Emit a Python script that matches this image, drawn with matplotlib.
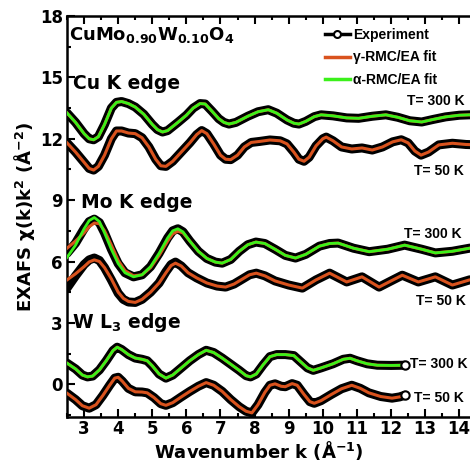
import matplotlib
matplotlib.use("Agg")
import matplotlib.pyplot as plt
from matplotlib.lines import Line2D
from matplotlib.ticker import MultipleLocator

plt.rcParams['font.family'] = ['DejaVu Sans']
plt.rcParams['font.weight'] = 'bold'
plt.rcParams['axes.labelweight'] = 'bold'
plt.rcParams['mathtext.fontset'] = 'dejavusans'
plt.rcParams['mathtext.default'] = 'bf'

# ---------------- data ----------------
# Cu K edge
cu300_k = [2.5, 2.75, 3.0, 3.15, 3.28, 3.42, 3.6, 3.8, 3.95, 4.1, 4.3, 4.5, 4.75, 5.0, 5.15,
           5.3, 5.45, 5.75, 6.0, 6.2, 6.4, 6.55, 6.75, 6.95, 7.1, 7.25, 7.45, 7.8, 8.1, 8.4,
           8.65, 8.95, 9.15, 9.3, 9.5, 9.75, 9.95, 10.3, 10.7, 11.05, 11.45, 11.85, 12.2,
           12.55, 12.9, 13.25, 13.6, 14.0, 14.3, 14.6]
cu300_y = [13.26, 12.8, 12.25, 12.0, 11.95, 12.1, 12.7, 13.5, 13.78, 13.82, 13.72, 13.55,
           13.2, 12.7, 12.45, 12.33, 12.4, 12.8, 13.15, 13.5, 13.72, 13.7, 13.35, 12.98,
           12.8, 12.72, 12.8, 13.1, 13.32, 13.42, 13.25, 12.92, 12.76, 12.72, 12.85, 13.08,
           13.17, 13.12, 13.02, 13.0, 13.1, 13.17, 13.05, 12.88, 12.82, 12.95, 13.07, 13.15,
           13.17, 13.15]

cu50_k = [2.5, 2.75, 3.0, 3.15, 3.28, 3.42, 3.6, 3.8, 3.95, 4.1, 4.3, 4.5, 4.7, 4.9, 5.1,
          5.25, 5.4, 5.6, 5.85, 6.1, 6.3, 6.45, 6.6, 6.8, 7.0, 7.15, 7.3, 7.5, 7.7, 7.9,
          8.15, 8.45, 8.75, 8.95, 9.15, 9.3, 9.45, 9.6, 9.8, 10.0, 10.1, 10.3, 10.55, 10.85,
          11.15, 11.45, 11.75, 12.05, 12.3, 12.5, 12.7, 12.88, 13.1, 13.4, 13.8, 14.2, 14.6]
cu50_y = [11.8, 11.35, 10.85, 10.55, 10.47, 10.65, 11.2, 12.0, 12.38, 12.38, 12.28, 12.25,
          12.05, 11.6, 11.0, 10.68, 10.65, 10.9, 11.35, 11.8, 12.2, 12.4, 12.25, 11.75,
          11.2, 11.0, 10.98, 11.2, 11.6, 11.82, 11.87, 11.94, 11.9, 11.75, 11.35, 11.0,
          10.9, 11.1, 11.65, 12.0, 12.08, 11.9, 11.6, 11.5, 11.55, 11.45, 11.6, 11.85,
          11.95, 11.8, 11.4, 11.2, 11.35, 11.7, 11.78, 11.72, 11.7]

# Mo K edge
mo300_k = [2.5, 2.75, 3.0, 3.15, 3.3, 3.45, 3.6, 3.8, 4.0, 4.2, 4.45, 4.7, 4.95, 5.2, 5.45,
           5.6, 5.75, 5.9, 6.1, 6.35, 6.6, 6.85, 7.05, 7.3, 7.55, 7.8, 8.04, 8.3, 8.6, 8.9,
           9.2, 9.5, 9.9, 10.2, 10.45, 10.9, 11.36, 11.9, 12.4, 12.9, 13.3, 13.8, 14.3, 14.6]
mo300_y = [6.4, 6.9, 7.6, 7.95, 8.07, 7.9, 7.4, 6.6, 5.9, 5.45, 5.25, 5.35, 5.75, 6.4, 7.15,
           7.5, 7.6, 7.45, 7.0, 6.5, 6.15, 5.97, 5.92, 6.1, 6.5, 6.82, 6.95, 6.88, 6.6, 6.3,
           6.17, 6.35, 6.75, 6.88, 6.9, 6.65, 6.48, 6.6, 6.8, 6.6, 6.42, 6.5, 6.65, 6.7]
mo300_alpha = [6.2, 6.8, 7.6, 8.0, 8.15, 7.95, 7.4, 6.6, 5.9, 5.45, 5.25, 5.35, 5.75, 6.4,
               7.15, 7.5, 7.6, 7.45, 7.0, 6.5, 6.15, 5.97, 5.92, 6.1, 6.5, 6.82, 6.95, 6.88,
               6.6, 6.3, 6.17, 6.35, 6.75, 6.88, 6.9, 6.65, 6.48, 6.6, 6.8, 6.6, 6.42, 6.5,
               6.65, 6.7]
mo300_gamma = [6.65, 7.0, 7.4, 7.7, 7.88, 7.85, 7.5, 6.8, 6.05, 5.55, 5.3, 5.35, 5.7, 6.3,
               7.0, 7.35, 7.48, 7.4, 7.0, 6.5, 6.15, 5.97, 5.92, 6.1, 6.5, 6.82, 6.95, 6.88,
               6.6, 6.3, 6.17, 6.35, 6.75, 6.88, 6.9, 6.65, 6.48, 6.6, 6.8, 6.6, 6.42, 6.5,
               6.65, 6.7]

mo50_k = [2.5, 2.75, 3.0, 3.15, 3.3, 3.45, 3.6, 3.8, 4.0, 4.15, 4.3, 4.5, 4.7, 4.95, 5.2,
          5.4, 5.55, 5.68, 5.85, 6.05, 6.3, 6.6, 6.9, 7.15, 7.4, 7.65, 7.85, 8.05, 8.3, 8.6,
          9.0, 9.4, 9.8, 10.2, 10.7, 11.15, 11.65, 12.0, 12.33, 12.8, 13.3, 13.8, 14.3, 14.6]
mo50_y = [4.7, 5.3, 5.85, 6.08, 6.17, 6.05, 5.7, 5.1, 4.45, 4.15, 4.02, 4.0, 4.15, 4.5,
          4.95, 5.5, 5.85, 5.97, 5.78, 5.45, 5.2, 4.95, 4.8, 4.75, 4.9, 5.15, 5.35, 5.43,
          5.3, 5.05, 4.85, 4.7, 5.1, 5.43, 5.0, 5.25, 4.75, 5.05, 5.33, 5.0, 5.25, 4.85,
          5.1, 5.15]
mo50_gamma = [5.1, 5.4, 5.75, 5.98, 6.08, 6.0, 5.7, 5.15, 4.5, 4.2, 4.05, 4.0, 4.15, 4.5,
              4.95, 5.45, 5.8, 5.92, 5.78, 5.45, 5.2, 4.95, 4.8, 4.75, 4.9, 5.15, 5.35, 5.43,
              5.3, 5.05, 4.85, 4.7, 5.1, 5.43, 5.0, 5.25, 4.75, 5.05, 5.33, 5.0, 5.25, 4.85,
              5.1, 5.15]

# W L3 edge
w300_k = [2.5, 2.75, 2.95, 3.1, 3.25, 3.45, 3.65, 3.85, 3.97, 4.1, 4.3, 4.5, 4.7, 4.85, 5.0,
          5.2, 5.4, 5.6, 5.85, 6.1, 6.35, 6.58, 6.8, 7.05, 7.3, 7.55, 7.75, 7.88, 8.05, 8.25,
          8.45, 8.65, 8.9, 9.15, 9.35, 9.55, 9.72, 9.95, 10.3, 10.6, 10.8, 11.0, 11.3, 11.6,
          12.0, 12.4]
w300_y = [1.03, 0.75, 0.45, 0.36, 0.4, 0.7, 1.15, 1.65, 1.81, 1.7, 1.45, 1.28, 1.22, 1.15,
          0.9, 0.5, 0.3, 0.45, 0.8, 1.15, 1.45, 1.66, 1.55, 1.28, 0.98, 0.68, 0.42, 0.36, 0.5,
          0.95, 1.35, 1.45, 1.45, 1.4, 1.1, 0.8, 0.68, 0.8, 1.0, 1.22, 1.27, 1.15, 1.0, 0.93,
          0.92, 0.93]

w50_k = [2.5, 2.75, 2.95, 3.15, 3.35, 3.55, 3.75, 3.9, 4.0, 4.12, 4.3, 4.5, 4.7, 4.85, 5.05,
         5.25, 5.4, 5.6, 5.85, 6.1, 6.35, 6.58, 6.8, 7.05, 7.3, 7.55, 7.75, 7.92, 8.1, 8.3,
         8.45, 8.6, 8.78, 8.9, 9.1, 9.25, 9.45, 9.62, 9.75, 9.95, 10.25, 10.55, 10.85, 11.1,
         11.35, 11.7, 12.03, 12.25, 12.4]
w50_y = [-0.44, -0.75, -1.05, -1.17, -1.0, -0.55, -0.05, 0.3, 0.34, 0.15, -0.2, -0.37, -0.38,
         -0.42, -0.65, -0.95, -1.03, -0.9, -0.62, -0.35, -0.1, 0.08, -0.05, -0.35, -0.75,
         -1.1, -1.32, -1.4, -1.0, -0.4, -0.05, 0.02, -0.1, -0.12, 0.03, -0.05, -0.5, -0.85,
         -0.93, -0.8, -0.5, -0.22, -0.05, -0.2, -0.42, -0.6, -0.68, -0.62, -0.54]

red = '#d9531e'
green = '#3bf01a'

fig = plt.figure(figsize=(4.70, 4.63), dpi=100)
ax = fig.add_axes([0.1426, 0.0994, 0.878, 0.866])


def draw_exp(k, y, end_marker=False):
    ax.plot(k, y, color='black', lw=6.5, solid_capstyle='round', solid_joinstyle='round',
            zorder=2)
    if end_marker:
        ax.plot(k[-1:], y[-1:], 'o', ms=6, mfc='white', mec='black', mew=1.5, zorder=4)


def draw_fit(k, y, color, lw=2.2):
    ax.plot(k, y, color=color, lw=lw, solid_joinstyle='round', zorder=3)


# Cu
draw_exp(cu300_k, cu300_y)
draw_fit(cu300_k, cu300_y, red)
draw_fit(cu300_k, cu300_y, green, 2.0)
draw_exp(cu50_k, cu50_y)
draw_fit(cu50_k, cu50_y, red)

# Mo
draw_exp(mo300_k, mo300_y)
draw_fit(mo300_k, mo300_gamma, red)
draw_fit(mo300_k, mo300_alpha, green, 2.0)
draw_exp(mo50_k, mo50_y)
draw_fit(mo50_k, mo50_gamma, red)

# W
draw_exp(w300_k, w300_y, end_marker=True)
draw_fit(w300_k, w300_y, red)
draw_fit(w300_k, w300_y, green, 2.0)
draw_exp(w50_k, w50_y, end_marker=True)
draw_fit(w50_k, w50_y, red)

ax.set_xlim(2.5, 14.6)
ax.set_ylim(-1.6, 18)
ax.xaxis.set_major_locator(MultipleLocator(1))
ax.xaxis.set_minor_locator(MultipleLocator(0.5))
ax.yaxis.set_major_locator(MultipleLocator(3))
ax.yaxis.set_minor_locator(MultipleLocator(1.5))
ax.tick_params(which='both', direction='in', top=True, right=True, width=1.5, labelsize=12)
ax.tick_params(which='major', length=6, pad=3)
ax.tick_params(axis='x', which='major', pad=2)
ax.tick_params(which='minor', length=3)
for s in ax.spines.values():
    s.set_linewidth(1.8)

ax.set_xlabel("Wavenumber k (Å$^{-1}$)", fontsize=13)
ax.set_ylabel("EXAFS χ(k)k$^{2}$ (Å$^{-2}$)", fontsize=13)
ax.xaxis.set_label_coords(0.465, -0.054)
ax.yaxis.set_label_coords(-0.072, 0.5)

# annotations
ax.text(2.56, 16.84, "CuMo$_{0.90}$W$_{0.10}$O$_{4}$", fontsize=13)
ax.text(2.68, 14.44, "Cu K edge", fontsize=13.5)
ax.text(2.91, 8.61, "Mo K edge", fontsize=13.5)
ax.text(2.65, 2.74, "W L$_{3}$ edge", fontsize=13.5)

tfont = dict(fontsize=10, family='Liberation Sans')
ax.text(12.47, 13.66, "T= 300 K", **tfont)
ax.text(12.68, 10.23, "T= 50 K", **tfont)
ax.text(12.38, 7.15, "T= 300 K", **tfont)
ax.text(12.74, 3.87, "T= 50 K", **tfont)
ax.text(12.55, 0.78, "T= 300 K", **tfont)
ax.text(12.68, -0.88, "T= 50 K", **tfont)

handles = [
    Line2D([], [], color='black', lw=2.5, marker='o', ms=5, mfc='white', mec='black', mew=1.5),
    Line2D([], [], color=red, lw=2.5),
    Line2D([], [], color=green, lw=2.5),
]
labels = ["Experiment", "γ-RMC/EA fit", "α-RMC/EA fit"]
ax.legend(handles, labels, loc='upper left', bbox_to_anchor=(0.625, 0.97), frameon=False,
          prop={'family': 'Liberation Sans', 'weight': 'bold', 'size': 10},
          handlelength=1.8, handletextpad=0.2, labelspacing=0.6,
          borderpad=0, borderaxespad=0)

fig.savefig("out.png", dpi=100)
